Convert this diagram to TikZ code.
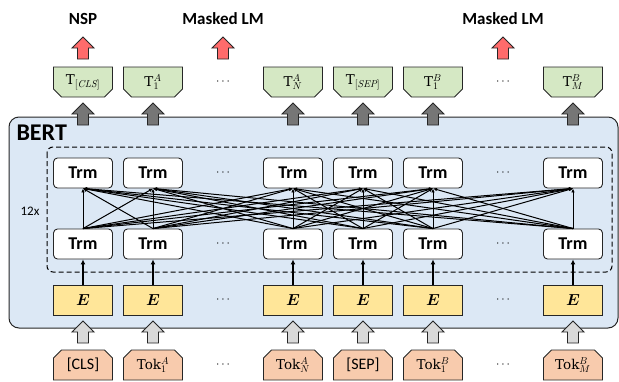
\documentclass[tikz,border=0pt]{standalone}
\usepackage{fix-cm}
\usepackage{fontspec}
\usepackage{bm}
\newfontfamily\carl{Carlito}
\newfontfamily\serf{DejaVu Serif}
\newcommand\supsub[2]{$^{\hbox{\fontsize{10}{10}\selectfont$#1$}}_{\hbox{\fontsize{10}{10}\selectfont$#2$}}$}
\newcommand\subonly[1]{$_{\hbox{\fontsize{10}{10}\selectfont$#1$}}$}
\usetikzlibrary{shapes.misc,arrows.meta}
\definecolor{bertbg}{HTML}{DCE8F5}
\definecolor{tgreen}{HTML}{D5E8C4}
\definecolor{eyellow}{HTML}{FFE699}
\definecolor{tokor}{HTML}{F8CBAD}
\definecolor{redarr}{HTML}{FF6B6B}
\definecolor{darkarr}{HTML}{767676}
\definecolor{lightarr}{HTML}{D9D9D9}
\definecolor{edge}{HTML}{262626}
\begin{document}
\begin{tikzpicture}[x=1pt,y=-1pt,
  box/.style={draw=edge, line width=0.9pt, minimum width=59pt, minimum height=30pt, inner sep=0pt},
  tbox/.style={box, fill=tgreen, chamfered rectangle, chamfered rectangle corners={south west,south east}, chamfered rectangle xsep=4pt, chamfered rectangle ysep=4pt, font=\serf\fontsize{13.5}{16}\selectfont},
  tokbox/.style={box, fill=tokor, chamfered rectangle, chamfered rectangle corners={north west,north east}, chamfered rectangle xsep=4pt, chamfered rectangle ysep=4pt, font=\serf\fontsize{13.5}{16}\selectfont},
  trm/.style={box, fill=white, rounded corners=4pt, font=\carl\bfseries\fontsize{18}{20}\selectfont},
  ebox/.style={box, fill=eyellow, font=\fontsize{16}{18}\selectfont},
  dots/.style={font=\fontsize{12}{14}\selectfont},
  conn/.style={line width=1pt, -{Latex[length=4pt,width=3.5pt]}},
  thick arr/.style={line width=2pt, -{Latex[length=5pt,width=5pt]}},
  head/.style={font=\carl\bfseries\fontsize{17}{20}\selectfont},
  blockup/.pic={\path[pic actions] (-5.5,0) -- (-5.5,-11) -- (-11,-11) -- (0,-22) -- (11,-11) -- (5.5,-11) -- (5.5,0) -- cycle;}
]
\useasboundingbox (0,0) rectangle (619,381);

% BERT container
\draw[draw=edge, line width=1pt, fill=bertbg, rounded corners=10pt] (9,117) rectangle (618,328);
\node[anchor=west, font=\carl\bfseries\fontsize{24}{26}\selectfont] (bert) at (13,133) {BERT};
\draw[dashed, dash pattern=on 5pt off 3pt, line width=1pt, rounded corners=6pt] (47,147) rectangle (612,272);
\node[font=\carl\fontsize{13}{15}\selectfont] (rep) at (30,211) {12x};

% nodes per column
\foreach \i/\x/\t/\k in {1/83/{T\subonly{[\mathit{CLS}]}}/{\carl\fontsize{16}{18}\selectfont [CLS]},
                        2/153/{T\supsub{A}{1}}/{Tok\supsub{A}{1}},
                        3/293/{T\supsub{A}{N}}/{Tok\supsub{A}{N}},
                        4/363/{T\subonly{[\mathit{SEP}]}}/{\carl\fontsize{16}{18}\selectfont [SEP]},
                        5/433/{T\supsub{B}{1}}/{Tok\supsub{B}{1}},
                        6/573/{T\supsub{B}{M}}/{Tok\supsub{B}{M}}}{
  \node[tbox] (T\i) at (\x,82) {\t};
  \node[trm] (t\i) at (\x,173) {Trm};
  \node[trm] (b\i) at (\x,244) {Trm};
  \node[ebox] (e\i) at (\x,300) {$\bm{E}$};
  \node[tokbox] (k\i) at (\x,365) {\k};
}

% dots
\foreach \x/\n in {223/a,503/b}{
  \node[dots] (dT\n) at (\x,82) {$\cdots$};
  \node[dots] (dt\n) at (\x,173) {$\cdots$};
  \node[dots] (db\n) at (\x,244) {$\cdots$};
  \node[dots] (de\n) at (\x,300) {$\cdots$};
  \node[dots] (dk\n) at (\x,365) {$\cdots$};
}

% full connections
\foreach \i in {1,...,6}{
  \foreach \j in {1,...,6}{
    \draw[conn] (b\i.north) -- (t\j.south);
  }
  \draw[thick arr] (e\i.north) -- (b\i.south);
  \pic[draw=edge, line width=0.9pt, fill=darkarr] at (T\i.south |- 0,125) {blockup};
  \pic[draw=edge, line width=0.9pt, fill=lightarr] at (k\i.north |- 0,343) {blockup};
}

% outputs
\pic[draw=edge, line width=0.9pt, fill=redarr] at (83,59) {blockup};
\pic[draw=edge, line width=0.9pt, fill=redarr] at (223,59) {blockup};
\pic[draw=edge, line width=0.9pt, fill=redarr] at (503,59) {blockup};
\node[head] (nsp) at (83,19) {NSP};
\node[head] (mlm1) at (223,19) {Masked LM};
\node[head] (mlm2) at (503,19) {Masked LM};
\end{tikzpicture}
\end{document}
